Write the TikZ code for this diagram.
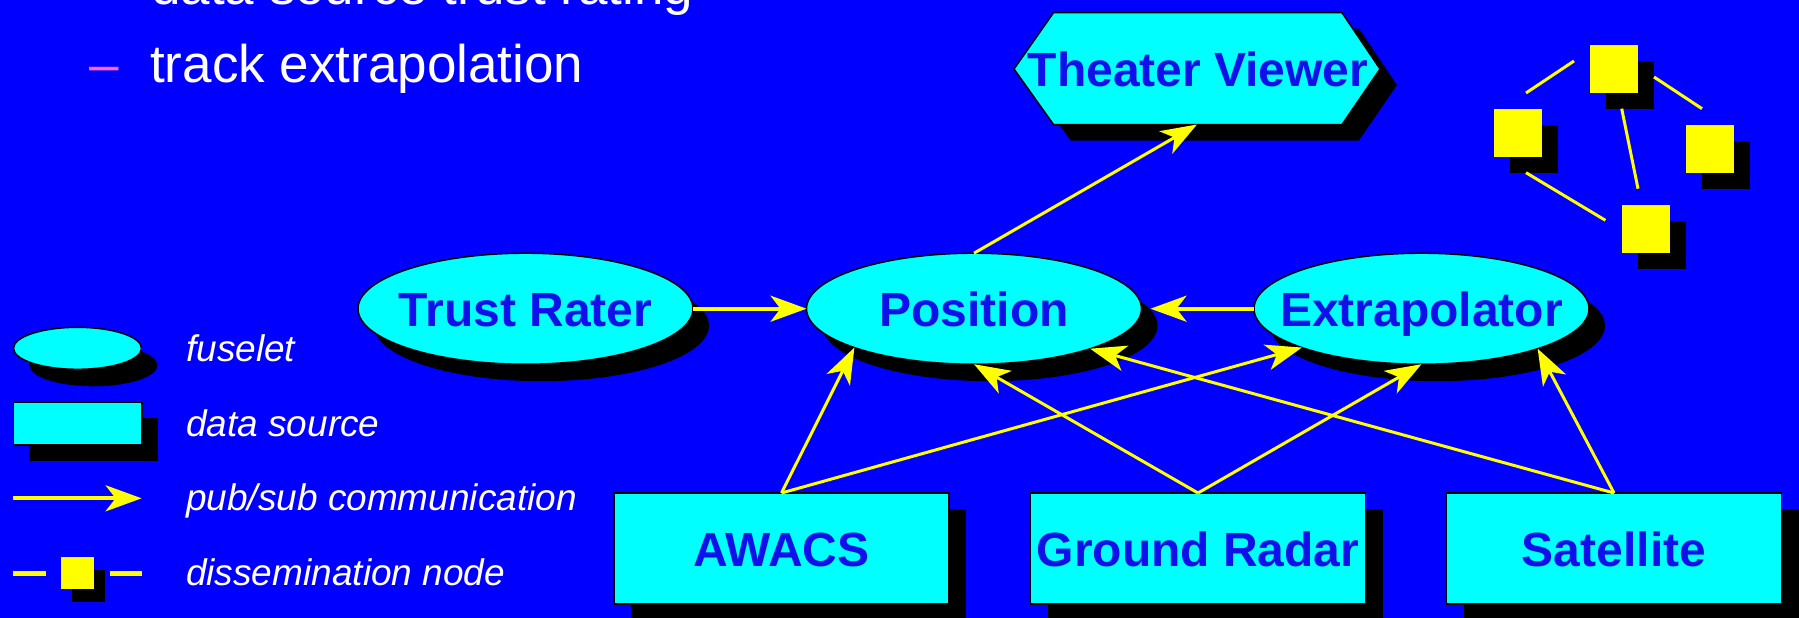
\documentclass[tikz,border=0pt]{standalone}
\usepackage{fontspec}
\setmainfont{Liberation Sans}
\usetikzlibrary{arrows.meta,shadows,shapes.geometric}
\definecolor{bg}{RGB}{0,0,255}
\definecolor{cy}{RGB}{0,255,255}
\definecolor{yl}{RGB}{255,255,0}
\definecolor{tx}{RGB}{16,16,232}
\definecolor{pk}{RGB}{255,102,204}
\newcommand{\zb}[1]{\makebox[0pt][c]{#1}}
\begin{document}
\begin{tikzpicture}[x=1pt,y=-1pt,
  shad/.style={drop shadow={shadow xshift=16pt,shadow yshift=-17pt,fill=black,opacity=1}},
  lbl/.style={text=tx,font=\fontsize{48}{48}\selectfont\bfseries,text height=35pt,text depth=0pt},
  fuse/.style={ellipse,draw=black,line width=1.5pt,fill=cy,minimum width=335pt,minimum height=111pt,inner sep=0pt,outer sep=0pt,lbl,shad},
  src/.style={rectangle,draw=black,line width=1.5pt,fill=cy,minimum width=335pt,minimum height=111pt,inner sep=0pt,outer sep=0pt,lbl,drop shadow={shadow xshift=17pt,shadow yshift=-16pt,fill=black,opacity=1}},
  dnode/.style={rectangle,fill=yl,minimum width=48pt,minimum height=48pt,inner sep=0pt,drop shadow={shadow xshift=16pt,shadow yshift=-16pt,fill=black,opacity=1}},
  pub/.style={yl,line width=3pt,-{Stealth[length=36pt,width=26pt,inset=10pt]}},
  pubw/.style={pub,line width=4pt},
  seg/.style={yl,line width=3pt},
  legtxt/.style={text=white,font=\fontsize{37}{37}\selectfont\itshape,anchor=base west,inner sep=0pt},
  toptxt/.style={text=white,font=\fontsize{53}{53}\selectfont,anchor=base west,inner sep=0pt}]
\useasboundingbox (0,0) rectangle (1799,618);
\fill[bg] (0,0) rectangle (1799,618);

% top text
\node[toptxt] (t1) at (151,5) {data source trust rating};
\node[toptxt,text=pk] (dash) at (89,82) {–};
\node[toptxt] (t2) at (150,82) {track extrapolation};

% Theater Viewer hexagon
\fill[black] (1031,85) -- (1070.5,28.7) -- (1359,28.7) -- (1397,85) -- (1359,140.5) -- (1070.5,140.5) -- cycle;
\draw[black,line width=1.5pt,fill=cy] (1014,69) -- (1053.5,12.7) -- (1342,12.7) -- (1380,69) -- (1342,124.5) -- (1053.5,124.5) -- cycle;
\node[lbl] (tv) at (1198,69.5) {Theater Viewer};
\coordinate (tvs) at (1197,124.5);

% fuselets
\node[fuse] (tr) at (525.5,308.7) {\zb{Trust Rater}};
\node[fuse] (pos) at (974,308.7) {\zb{Position}};
\node[fuse] (ex) at (1421.5,308.7) {\zb{Extrapolator}};

% data sources
\node[src] (aw) at (781.5,548.5) {AWACS};
\node[src] (gr) at (1198,548.5) {Ground Radar};
\node[src] (sat) at (1614,548.5) {Satellite};

% connectors
\draw[pubw] (tr.east) -- (pos.west);
\draw[pubw,shorten >=9pt] (ex.west) -- (pos.east);
\draw[pub] (pos.north) -- (tvs);
\draw[pub] (aw.north) -- (pos.198.5);
\draw[pub] (aw.north) -- (ex.198);
\draw[pub] (gr.north) -- (pos.south);
\draw[pub] (gr.north) -- (ex.south);
\draw[pub] (sat.north) -- (pos.341.5);
\draw[pub] (sat.north) -- (ex.341.5);

% dissemination nodes
\node[dnode] (da) at (1613.8,68.9) {};
\node[dnode] (db) at (1517.8,132.9) {};
\node[dnode] (dc) at (1710,148.9) {};
\node[dnode] (dd) at (1645.9,228.9) {};
\coordinate (s1a) at (1526,93); \coordinate (s1b) at (1574,61);
\coordinate (s2a) at (1654,77); \coordinate (s2b) at (1702,108.7);
\coordinate (s3a) at (1621.7,108.7); \coordinate (s3b) at (1638,188.7);
\coordinate (s4a) at (1526,172.7); \coordinate (s4b) at (1605.4,220.3);
\draw[seg] (s1a) -- (s1b);
\draw[seg] (s2a) -- (s2b);
\draw[seg] (s3a) -- (s3b);
\draw[seg] (s4a) -- (s4b);

% legend
\node[ellipse,draw=black,line width=1.5pt,fill=cy,minimum width=128pt,minimum height=42pt,inner sep=0pt,shad] (lfus) at (77.5,348.3) {};
\node[legtxt] (lt1) at (186,361.7) {fuselet};
\node[rectangle,draw=black,line width=1.5pt,fill=cy,minimum width=128.6pt,minimum height=42.7pt,inner sep=0pt,drop shadow={shadow xshift=16pt,shadow yshift=-16pt,fill=black,opacity=1}] (lsrc) at (77.7,423.7) {};
\node[legtxt] (lt2) at (186,436.7) {data source};
\coordinate (la1) at (13.4,498.3); \coordinate (la2) at (141.6,498.3);
\draw[pubw] (la1) -- (la2);
\node[legtxt] (lt3) at (186,510) {pub/sub communication};
\coordinate (ld1) at (13.4,573.3); \coordinate (ld2) at (45.5,573.3);
\coordinate (ld3) at (109.5,573.3); \coordinate (ld4) at (141.6,573.3);
\draw[seg,line width=4.5pt] (ld1) -- (ld2);
\draw[seg,line width=4.5pt] (ld3) -- (ld4);
\node[rectangle,fill=yl,minimum width=33pt,minimum height=32pt,inner sep=0pt,drop shadow={shadow xshift=11pt,shadow yshift=-13pt,fill=black,opacity=1}] (ldn) at (77.5,573.3) {};
\node[legtxt] (lt4) at (186,585.3) {dissemination node};
\end{tikzpicture}
\end{document}
